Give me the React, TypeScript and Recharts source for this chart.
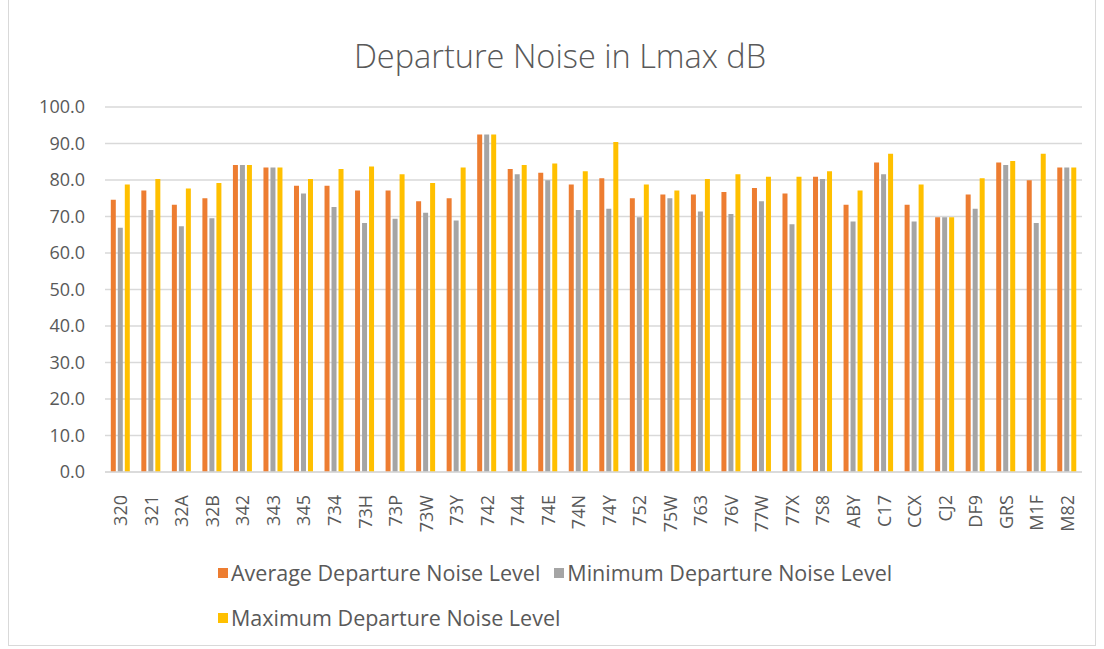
import React from "react";
import {
  BarChart,
  Bar,
  XAxis,
  YAxis,
  CartesianGrid,
  Legend,
} from "recharts";

const categories = [
  "320", "321", "32A", "32B", "342", "343", "345", "734", "73H", "73P", "73W",
  "73Y", "742", "744", "74E", "74N", "74Y", "752", "75W", "763", "76V", "77W",
  "77X", "7S8", "ABY", "C17", "CCX", "CJ2", "DF9", "GRS", "M1F", "M82",
];

const avgLevel = [
  74.6, 77.1, 73.2, 75.0, 84.1, 83.4, 78.4, 78.4, 77.1, 77.1, 74.2,
  75.0, 92.5, 83.0, 82.0, 78.8, 80.5, 75.0, 76.0, 76.0, 76.7, 77.8,
  76.3, 80.9, 73.2, 84.8, 73.2, 69.8, 76.0, 84.8, 79.9, 83.4,
];

const minLevel = [
  66.9, 71.8, 67.3, 69.5, 84.1, 83.4, 76.3, 72.6, 68.2, 69.4, 71.0,
  68.9, 92.5, 81.6, 79.9, 71.8, 72.1, 69.8, 75.0, 71.4, 70.7, 74.2,
  67.9, 80.3, 68.6, 81.6, 68.6, 69.8, 72.1, 84.1, 68.2, 83.4,
];

const maxLevel = [
  78.8, 80.3, 77.7, 79.2, 84.1, 83.4, 80.3, 83.0, 83.7, 81.6, 79.2,
  83.4, 92.5, 84.1, 84.5, 82.4, 90.4, 78.8, 77.1, 80.3, 81.6, 80.9,
  80.9, 82.4, 77.1, 87.2, 78.8, 69.8, 80.5, 85.2, 87.2, 83.4,
];

const yTicks = [0, 10, 20, 30, 40, 50, 60, 70, 80, 90, 100];

const seriesOrder = ["avg", "min", "max"];

const data = categories.map((c, i) => ({
  code: c,
  avg: avgLevel[i],
  min: minLevel[i],
  max: maxLevel[i],
}));

const FONT = "'Open Sans', 'Liberation Sans', sans-serif";
const TEXT = "#595959";

const XTick = (props: any) => {
  const { x, y, payload } = props;
  const ty = y + 15;
  return (
    <text
      x={x}
      y={ty}
      transform={`rotate(-90 ${x} ${ty})`}
      textAnchor="end"
      dominantBaseline="central"
      fontSize={18}
      fill={TEXT}
      fontFamily={FONT}
    >
      {payload.value}
    </text>
  );
};

const LegendContent = (props: any) => {
  // keep the series order (recharts sorts legend items by name)
  const items = [...(props.payload || [])].sort(
    (a: any, b: any) => seriesOrder.indexOf(a.dataKey) - seriesOrder.indexOf(b.dataKey)
  );
  const item = (p: any) => (
    <span
      key={p.value}
      style={{ display: "inline-flex", alignItems: "center", marginRight: 14 }}
    >
      <span
        style={{
          width: 10,
          height: 10,
          background: p.color,
          display: "inline-block",
          marginRight: 3,
        }}
      />
      {p.value}
    </span>
  );
  const row = { height: 45, display: "flex", alignItems: "center" };
  return (
    <div style={{ fontFamily: FONT, fontSize: 21.5, color: TEXT, whiteSpace: "nowrap" }}>
      <div style={row}>{items.slice(0, 2).map(item)}</div>
      <div style={row}>{items.slice(2).map(item)}</div>
    </div>
  );
};

export default function App() {
  return (
    <div
      style={{
        position: "absolute",
        left: 0,
        top: 0,
        width: 1104,
        height: 649,
        background: "#fff",
      }}
    >
      <div
        style={{
          position: "absolute",
          left: 8,
          top: -2,
          width: 1086,
          height: 646,
          border: "1px solid #d9d9d9",
        }}
      />
      <div
        style={{
          position: "absolute",
          left: 0,
          width: 1120,
          top: 33,
          textAlign: "center",
          fontFamily: FONT,
          fontSize: 32.5,
          fontWeight: 300,
          color: TEXT,
        }}
      >
        Departure Noise in Lmax dB
      </div>
      <div style={{ position: "absolute", left: 0, top: 0 }}>
        <BarChart
          width={1104}
          height={649}
          data={data}
          margin={{ top: 107, right: 22, left: 0, bottom: 0 }}
          barGap={2}
          barCategoryGap="19%"
        >
          <CartesianGrid vertical={false} stroke="#d9d9d9" strokeWidth={1.5} />
          <XAxis
            dataKey="code"
            interval={0}
            height={177}
            tickLine={false}
            axisLine={{ stroke: "#d9d9d9", strokeWidth: 1.5 }}
            tick={<XTick />}
          />
          <YAxis
            width={105}
            domain={[0, 100]}
            ticks={yTicks}
            tickFormatter={(v: number) => v.toFixed(1)}
            axisLine={false}
            tickLine={false}
            tickMargin={14}
            tick={{ fontSize: 18, fill: TEXT, fontFamily: FONT }}
          />
          <Legend
            layout="vertical"
            align="center"
            verticalAlign="middle"
            content={<LegendContent />}
            wrapperStyle={{ top: 550, left: 218, width: 800 }}
          />
          <Bar dataKey="avg" name="Average Departure Noise Level" fill="#ED7D31" isAnimationActive={false} />
          <Bar dataKey="min" name="Minimum Departure Noise Level" fill="#A5A5A5" isAnimationActive={false} />
          <Bar dataKey="max" name="Maximum Departure Noise Level" fill="#FFC000" isAnimationActive={false} />
        </BarChart>
      </div>
    </div>
  );
}
